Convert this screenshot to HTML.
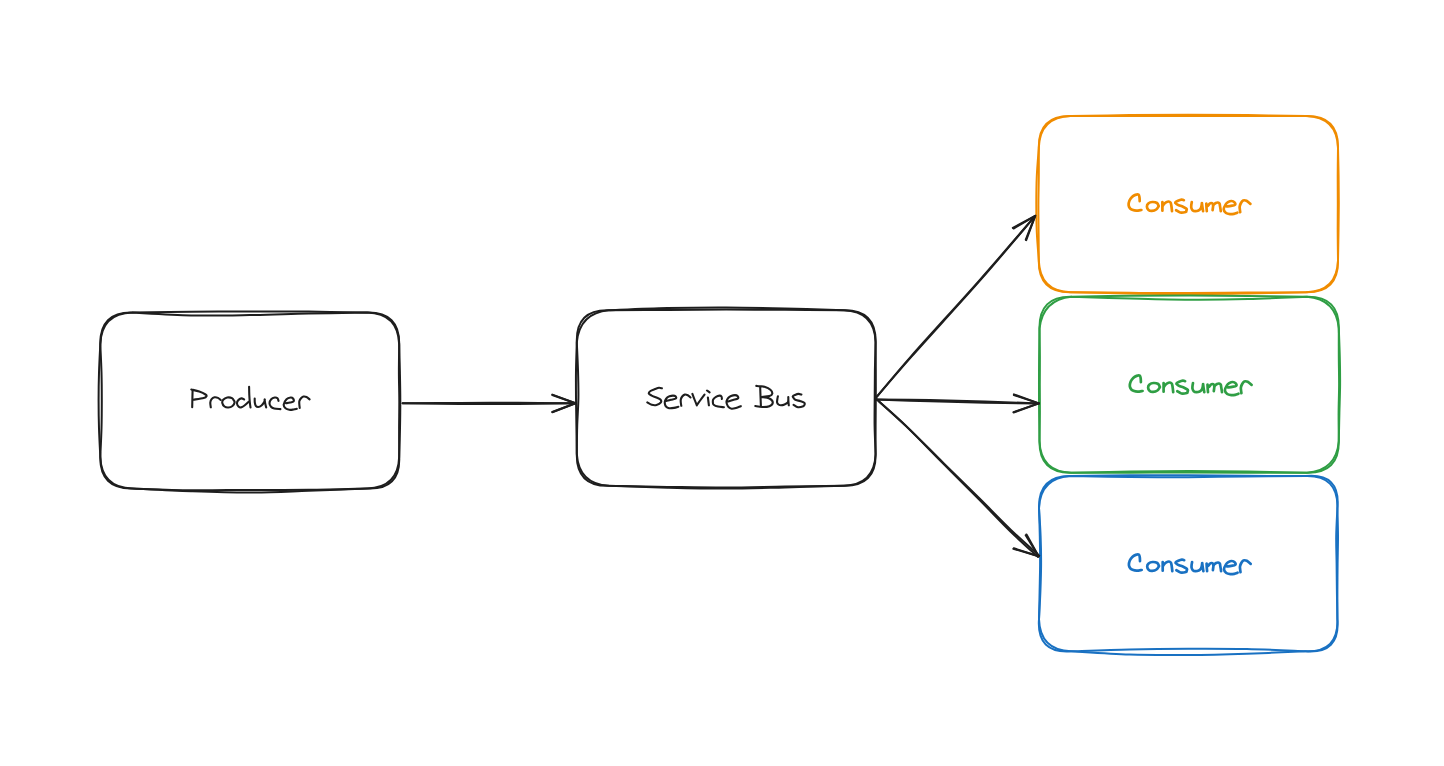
<!DOCTYPE html>
<html><head><meta charset="utf-8"><style>
html,body{margin:0;padding:0;background:#fff;}
body{width:1444px;height:766px;overflow:hidden;}
svg{display:block;}
</style></head><body>
<svg width="1444" height="766" viewBox="0 0 1444 766" stroke-linecap="round" stroke-linejoin="round">
<rect width="1444" height="766" fill="#ffffff"/>
<path d="M132.30 312.60 C142.09 312.47 171.45 312.00 191.03 311.80 C210.60 311.60 230.18 311.43 249.75 311.40 C269.32 311.37 288.90 311.40 308.48 311.60 C328.05 311.80 357.41 312.43 367.20 312.60 Q399.90 311.90 399.20 344.60 C399.32 349.26 399.72 363.25 399.90 372.58 C400.08 381.90 400.28 391.23 400.30 400.55 C400.32 409.88 400.18 419.20 400.00 428.53 C399.82 437.85 399.33 451.84 399.20 456.50 Q400.80 490.10 367.20 488.50 C357.41 488.72 328.05 489.57 308.48 489.80 C288.90 490.03 269.32 489.82 249.75 489.90 C230.18 489.98 210.60 490.53 191.03 490.30 C171.45 490.07 142.09 488.80 132.30 488.50 Q99.60 489.20 100.30 456.50 C100.08 451.84 99.28 437.85 99.00 428.52 C98.72 419.20 98.60 409.88 98.60 400.55 C98.60 391.23 98.72 381.90 99.00 372.57 C99.28 363.25 100.08 349.26 100.30 344.60 Q99.60 311.90 132.30 312.60" stroke="#1e1e1e" stroke-width="2.0" fill="none"/>
<path d="M132.30 312.60 C142.09 313.07 171.45 314.98 191.03 315.40 C210.60 315.82 230.18 315.40 249.75 315.10 C269.32 314.80 288.90 314.02 308.48 313.60 C328.05 313.18 357.41 312.77 367.20 312.60 Q398.30 313.50 399.20 344.60 C399.15 349.26 398.88 363.25 398.90 372.58 C398.92 381.90 399.27 391.23 399.30 400.55 C399.33 409.88 399.12 419.20 399.10 428.53 C399.08 437.85 399.18 451.84 399.20 456.50 Q398.30 487.60 367.20 488.50 C357.41 488.88 328.05 490.12 308.48 490.80 C288.90 491.48 269.32 492.52 249.75 492.60 C230.18 492.68 210.60 491.98 191.03 491.30 C171.45 490.62 142.09 488.97 132.30 488.50 Q101.20 487.60 100.30 456.50 C100.50 451.84 101.25 437.85 101.50 428.52 C101.75 419.20 101.80 409.88 101.80 400.55 C101.80 391.23 101.75 381.90 101.50 372.57 C101.25 363.25 100.50 349.26 100.30 344.60 Q101.20 313.50 132.30 312.60" stroke="#1e1e1e" stroke-width="2.0" fill="none"/>
<path d="M608.80 310.30 C618.58 309.93 647.93 308.57 667.50 308.10 C687.07 307.63 706.63 307.43 726.20 307.50 C745.77 307.57 765.33 308.03 784.90 308.50 C804.47 308.97 833.82 310.00 843.60 310.30 Q876.30 309.60 875.60 342.30 C875.63 346.95 875.77 360.88 875.80 370.18 C875.83 379.47 875.83 388.76 875.80 398.05 C875.77 407.34 875.63 416.63 875.60 425.93 C875.57 435.22 875.60 449.15 875.60 453.80 Q876.30 486.50 843.60 485.80 C833.82 486.07 804.47 486.93 784.90 487.40 C765.33 487.87 745.77 488.55 726.20 488.60 C706.63 488.65 687.07 488.17 667.50 487.70 C647.93 487.23 618.58 486.12 608.80 485.80 Q576.00 486.60 576.80 453.80 C576.73 449.15 576.53 435.22 576.40 425.93 C576.27 416.63 576.07 407.34 576.00 398.05 C575.93 388.76 575.87 379.47 576.00 370.18 C576.13 360.88 576.67 346.95 576.80 342.30 Q575.80 309.30 608.80 310.30" stroke="#1e1e1e" stroke-width="2.0" fill="none"/>
<path d="M608.80 310.30 C618.58 310.25 647.93 310.12 667.50 310.00 C687.07 309.88 706.63 309.63 726.20 309.60 C745.77 309.57 765.33 309.68 784.90 309.80 C804.47 309.92 833.82 310.22 843.60 310.30 Q874.70 311.20 875.60 342.30 C875.48 346.95 875.05 360.88 874.90 370.18 C874.75 379.47 874.75 388.76 874.70 398.05 C874.65 407.34 874.45 416.63 874.60 425.93 C874.75 435.22 875.43 449.15 875.60 453.80 Q874.70 484.90 843.60 485.80 C833.82 485.93 804.47 486.30 784.90 486.60 C765.33 486.90 745.77 487.55 726.20 487.60 C706.63 487.65 687.07 487.20 667.50 486.90 C647.93 486.60 618.58 485.98 608.80 485.80 Q578.60 484.00 576.80 453.80 C576.87 449.15 576.93 435.22 577.20 425.93 C577.47 416.63 578.27 407.34 578.40 398.05 C578.53 388.76 578.27 379.47 578.00 370.18 C577.73 360.88 577.00 346.95 576.80 342.30 Q579.60 313.10 608.80 310.30" stroke="#1e1e1e" stroke-width="2.0" fill="none"/>
<path d="M1070.80 116.10 C1080.60 115.93 1110.00 115.32 1129.60 115.10 C1149.20 114.88 1168.80 114.80 1188.40 114.80 C1208.00 114.80 1227.60 114.88 1247.20 115.10 C1266.80 115.32 1296.20 115.93 1306.00 116.10 Q1338.70 115.40 1338.00 148.10 C1338.10 152.77 1338.47 166.78 1338.60 176.12 C1338.73 185.47 1338.82 194.81 1338.80 204.15 C1338.78 213.49 1338.63 222.83 1338.50 232.17 C1338.37 241.52 1338.08 255.53 1338.00 260.20 Q1338.70 292.90 1306.00 292.20 C1296.20 292.40 1266.80 293.08 1247.20 293.40 C1227.60 293.72 1208.00 294.08 1188.40 294.10 C1168.80 294.12 1149.20 293.82 1129.60 293.50 C1110.00 293.18 1080.60 292.42 1070.80 292.20 Q1038.10 292.90 1038.80 260.20 C1038.47 255.53 1037.22 241.52 1036.80 232.17 C1036.38 222.83 1036.30 213.49 1036.30 204.15 C1036.30 194.81 1036.38 185.47 1036.80 176.12 C1037.22 166.78 1038.47 152.77 1038.80 148.10 Q1038.10 115.40 1070.80 116.10" stroke="#f08c00" stroke-width="2.0" fill="none"/>
<path d="M1070.80 116.10 C1080.60 116.10 1110.00 116.12 1129.60 116.10 C1149.20 116.08 1168.80 116.00 1188.40 116.00 C1208.00 116.00 1227.60 116.08 1247.20 116.10 C1266.80 116.12 1296.20 116.10 1306.00 116.10 Q1337.10 117.00 1338.00 148.10 C1337.95 152.77 1337.73 166.78 1337.70 176.12 C1337.67 185.47 1337.80 194.81 1337.80 204.15 C1337.80 213.49 1337.67 222.83 1337.70 232.17 C1337.73 241.52 1337.95 255.53 1338.00 260.20 Q1337.10 291.30 1306.00 292.20 C1296.20 292.27 1266.80 292.45 1247.20 292.60 C1227.60 292.75 1208.00 293.07 1188.40 293.10 C1168.80 293.13 1149.20 292.95 1129.60 292.80 C1110.00 292.65 1080.60 292.30 1070.80 292.20 Q1039.70 291.30 1038.80 260.20 C1038.77 255.53 1038.67 241.52 1038.60 232.17 C1038.53 222.83 1038.37 213.49 1038.40 204.15 C1038.43 194.81 1038.73 185.47 1038.80 176.12 C1038.87 166.78 1038.80 152.77 1038.80 148.10 Q1039.70 117.00 1070.80 116.10" stroke="#f08c00" stroke-width="2.0" fill="none"/>
<path d="M1071.50 296.70 C1081.30 296.55 1110.72 295.98 1130.33 295.80 C1149.93 295.62 1169.54 295.58 1189.15 295.60 C1208.76 295.62 1228.37 295.72 1247.97 295.90 C1267.58 296.08 1297.00 296.57 1306.80 296.70 Q1339.50 296.00 1338.80 328.70 C1338.97 333.37 1339.58 347.37 1339.80 356.70 C1340.02 366.03 1340.17 375.37 1340.10 384.70 C1340.03 394.03 1339.62 403.37 1339.40 412.70 C1339.18 422.03 1338.90 436.03 1338.80 440.70 Q1339.50 473.40 1306.80 472.70 C1297.00 472.70 1267.58 472.73 1247.97 472.70 C1228.37 472.67 1208.76 472.50 1189.15 472.50 C1169.54 472.50 1149.93 472.67 1130.32 472.70 C1110.72 472.73 1081.30 472.70 1071.50 472.70 Q1038.80 473.40 1039.50 440.70 C1039.43 436.03 1039.18 422.03 1039.10 412.70 C1039.02 403.37 1039.00 394.03 1039.00 384.70 C1039.00 375.37 1039.02 366.03 1039.10 356.70 C1039.18 347.37 1039.43 333.37 1039.50 328.70 Q1038.80 296.00 1071.50 296.70" stroke="#2f9e44" stroke-width="2.0" fill="none"/>
<path d="M1071.50 296.70 C1081.30 297.00 1110.72 298.00 1130.33 298.50 C1149.93 299.00 1169.54 299.60 1189.15 299.70 C1208.76 299.80 1228.37 299.60 1247.97 299.10 C1267.58 298.60 1297.00 297.10 1306.80 296.70 Q1336.40 299.10 1338.80 328.70 C1338.80 333.37 1338.75 347.37 1338.80 356.70 C1338.85 366.03 1339.13 375.37 1339.10 384.70 C1339.07 394.03 1338.65 403.37 1338.60 412.70 C1338.55 422.03 1338.77 436.03 1338.80 440.70 Q1336.60 470.50 1306.80 472.70 C1297.00 472.50 1267.58 471.77 1247.97 471.50 C1228.37 471.23 1208.76 471.10 1189.15 471.10 C1169.54 471.10 1149.93 471.23 1130.32 471.50 C1110.72 471.77 1081.30 472.50 1071.50 472.70 Q1040.40 471.80 1039.50 440.70 C1039.57 436.03 1039.85 422.03 1039.90 412.70 C1039.95 403.37 1039.80 394.03 1039.80 384.70 C1039.80 375.37 1039.95 366.03 1039.90 356.70 C1039.85 347.37 1039.57 333.37 1039.50 328.70 Q1042.50 299.70 1071.50 296.70" stroke="#2f9e44" stroke-width="2.0" fill="none"/>
<path d="M1071.00 476.10 C1080.77 475.95 1110.07 475.33 1129.60 475.20 C1149.13 475.07 1168.67 475.20 1188.20 475.30 C1207.73 475.40 1227.27 475.67 1246.80 475.80 C1266.33 475.93 1295.63 476.05 1305.40 476.10 Q1340.90 472.60 1337.40 508.10 C1337.50 512.73 1337.97 526.63 1338.00 535.90 C1338.03 545.17 1337.70 554.43 1337.60 563.70 C1337.50 572.97 1337.43 582.23 1337.40 591.50 C1337.37 600.77 1337.40 614.67 1337.40 619.30 Q1340.40 654.30 1305.40 651.30 C1295.63 650.92 1266.33 649.43 1246.80 649.00 C1227.27 648.57 1207.73 648.63 1188.20 648.70 C1168.67 648.77 1149.13 648.97 1129.60 649.40 C1110.07 649.83 1080.77 650.98 1071.00 651.30 Q1036.50 653.80 1039.00 619.30 C1039.10 614.67 1039.42 600.77 1039.60 591.50 C1039.78 582.23 1040.07 572.97 1040.10 563.70 C1040.13 554.43 1039.98 545.17 1039.80 535.90 C1039.62 526.63 1039.13 512.73 1039.00 508.10 Q1038.30 475.40 1071.00 476.10" stroke="#1971c2" stroke-width="2.0" fill="none"/>
<path d="M1071.00 476.10 C1080.77 476.27 1110.07 476.92 1129.60 477.10 C1149.13 477.28 1168.67 477.32 1188.20 477.20 C1207.73 477.08 1227.27 476.58 1246.80 476.40 C1266.33 476.22 1295.63 476.15 1305.40 476.10 Q1338.40 475.10 1337.40 508.10 C1337.20 512.73 1336.33 526.63 1336.20 535.90 C1336.07 545.17 1336.48 554.43 1336.60 563.70 C1336.72 572.97 1336.77 582.23 1336.90 591.50 C1337.03 600.77 1337.32 614.67 1337.40 619.30 Q1338.60 652.50 1305.40 651.30 C1295.63 651.70 1266.33 653.08 1246.80 653.70 C1227.27 654.32 1207.73 654.85 1188.20 655.00 C1168.67 655.15 1149.13 655.22 1129.60 654.60 C1110.07 653.98 1080.77 651.85 1071.00 651.30 Q1040.00 650.30 1039.00 619.30 C1039.23 614.67 1040.05 600.77 1040.40 591.50 C1040.75 582.23 1041.07 572.97 1041.10 563.70 C1041.13 554.43 1040.95 545.17 1040.60 535.90 C1040.25 526.63 1039.27 512.73 1039.00 508.10 Q1040.50 477.60 1071.00 476.10" stroke="#1971c2" stroke-width="2.0" fill="none"/>
<path d="M402.60 403.20 C412.17 403.34 440.77 403.93 460.00 404.05 C479.23 404.18 498.75 404.09 518.00 403.95 C537.25 403.81 565.92 403.32 575.50 403.20" stroke="#1e1e1e" stroke-width="2.0" fill="none" stroke-linecap="round"/>
<path d="M402.60 403.20 C412.17 403.16 440.77 403.01 460.00 402.95 C479.23 402.89 498.75 402.81 518.00 402.85 C537.25 402.89 565.92 403.14 575.50 403.20" stroke="#1e1e1e" stroke-width="2.0" fill="none" stroke-linecap="round"/>
<path d="M552.30 395.00 L575.50 403.20 L552.30 411.98" stroke="#1e1e1e" stroke-width="2.0" fill="none" stroke-linecap="round" stroke-linejoin="round"/>
<path d="M552.30 394.60 L575.50 403.20 L552.30 412.22" stroke="#1e1e1e" stroke-width="2.0" fill="none" stroke-linecap="round" stroke-linejoin="round"/>
<path d="M875.60 398.20 C881.65 391.20 894.47 375.86 911.93 356.20 C929.38 336.53 959.78 303.58 980.33 280.20 C1000.87 256.81 1026.05 226.62 1035.20 215.90" stroke="#1e1e1e" stroke-width="2.0" fill="none" stroke-linecap="round"/>
<path d="M875.60 398.20 C881.58 391.13 894.10 375.54 911.47 355.80 C928.85 336.07 959.25 303.12 979.87 279.80 C1000.50 256.49 1025.98 226.55 1035.20 215.90" stroke="#1e1e1e" stroke-width="2.0" fill="none" stroke-linecap="round"/>
<path d="M1013.58 228.53 L1035.20 215.90 L1025.77 239.70" stroke="#1e1e1e" stroke-width="2.0" fill="none" stroke-linecap="round" stroke-linejoin="round"/>
<path d="M1012.82 227.87 L1035.20 215.90 L1026.23 240.10" stroke="#1e1e1e" stroke-width="2.0" fill="none" stroke-linecap="round" stroke-linejoin="round"/>
<path d="M875.00 399.40 C884.16 399.72 911.65 400.75 929.99 401.30 C948.32 401.85 966.83 402.35 984.99 402.70 C1003.14 403.05 1029.91 403.28 1038.90 403.40" stroke="#1e1e1e" stroke-width="2.0" fill="none" stroke-linecap="round"/>
<path d="M875.00 399.40 C884.17 399.52 911.68 399.75 930.01 400.10 C948.35 400.45 966.87 400.95 985.01 401.50 C1003.16 402.05 1029.92 403.08 1038.90 403.40" stroke="#1e1e1e" stroke-width="2.0" fill="none" stroke-linecap="round"/>
<path d="M1013.89 395.05 L1038.90 403.40 L1013.61 412.09" stroke="#1e1e1e" stroke-width="2.0" fill="none" stroke-linecap="round" stroke-linejoin="round"/>
<path d="M1013.91 394.35 L1038.90 403.40 L1013.59 412.51" stroke="#1e1e1e" stroke-width="2.0" fill="none" stroke-linecap="round" stroke-linejoin="round"/>
<path d="M876.00 398.80 C880.95 403.31 894.43 415.00 905.72 425.89 C917.00 436.77 931.30 451.65 943.71 464.10 C956.11 476.55 969.06 489.39 980.14 500.57 C991.22 511.76 1000.56 521.82 1010.20 531.22 C1019.84 540.61 1033.34 552.66 1037.97 556.95" stroke="#1e1e1e" stroke-width="2.0" fill="none" stroke-linecap="round"/>
<path d="M876.00 398.80 C880.98 403.29 894.53 414.90 905.88 425.71 C917.23 436.53 931.60 451.35 944.09 463.70 C956.59 476.05 969.68 488.75 980.86 499.83 C992.05 510.91 1001.47 520.88 1011.20 530.18 C1020.93 539.49 1034.56 551.41 1039.23 555.65" stroke="#1e1e1e" stroke-width="2.0" fill="none" stroke-linecap="round"/>
<path d="M1025.68 535.33 L1038.60 556.30 L1013.85 548.24" stroke="#1e1e1e" stroke-width="2.0" fill="none" stroke-linecap="round" stroke-linejoin="round"/>
<path d="M1026.52 534.47 L1038.60 556.30 L1013.35 548.76" stroke="#1e1e1e" stroke-width="2.0" fill="none" stroke-linecap="round" stroke-linejoin="round"/>
<path d="M192.60 389.80 C192.57 391.17 192.47 395.08 192.40 398.00 C192.33 400.92 192.23 405.75 192.20 407.30 M191.30 389.50 C192.63 389.85 196.93 390.77 199.30 391.60 C201.67 392.43 204.30 393.73 205.50 394.50 C206.70 395.27 206.80 395.62 206.50 396.20 C206.20 396.78 205.87 397.42 203.70 398.00 C201.53 398.58 195.20 399.42 193.50 399.70 M210.80 407.30 C210.72 406.50 210.17 403.85 210.30 402.50 C210.43 401.15 210.90 400.07 211.60 399.20 C212.30 398.33 213.43 397.52 214.50 397.30 C215.57 397.08 216.98 397.47 218.00 397.90 C219.02 398.33 220.17 399.57 220.60 399.90 M234.50 401.50 C234.08 400.95 233.22 398.87 232.00 398.20 C230.78 397.53 228.67 397.23 227.20 397.50 C225.73 397.77 224.02 398.88 223.20 399.80 C222.38 400.72 222.08 401.88 222.30 403.00 C222.52 404.12 223.50 405.75 224.50 406.50 C225.50 407.25 226.97 407.58 228.30 407.50 C229.63 407.42 231.45 406.83 232.50 406.00 C233.55 405.17 234.43 403.50 234.60 402.50 C234.77 401.50 233.68 400.42 233.50 400.00 M244.10 399.50 C243.65 399.32 242.42 398.23 241.40 398.40 C240.38 398.57 238.73 399.65 238.00 400.50 C237.27 401.35 236.92 402.50 237.00 403.50 C237.08 404.50 237.83 405.85 238.50 406.50 C239.17 407.15 240.00 407.57 241.00 407.40 C242.00 407.23 243.17 406.48 244.50 405.50 C245.83 404.52 248.25 402.17 249.00 401.50 M249.10 386.70 C249.13 388.08 249.18 392.45 249.30 395.00 C249.42 397.55 249.60 399.93 249.80 402.00 C250.00 404.07 250.38 406.50 250.50 407.40 M254.70 398.50 C254.72 399.17 254.62 401.28 254.80 402.50 C254.98 403.72 255.23 405.05 255.80 405.80 C256.37 406.55 257.25 407.05 258.20 407.00 C259.15 406.95 260.50 406.33 261.50 405.50 C262.50 404.67 263.65 403.02 264.20 402.00 C264.75 400.98 264.70 399.83 264.80 399.40 M264.60 399.50 C264.70 400.17 264.93 402.18 265.20 403.50 C265.47 404.82 266.03 406.75 266.20 407.40 M278.50 400.80 C278.33 400.37 278.13 398.75 277.50 398.20 C276.87 397.65 275.75 397.33 274.70 397.50 C273.65 397.67 272.07 398.25 271.20 399.20 C270.33 400.15 269.53 401.93 269.50 403.20 C269.47 404.47 270.22 405.93 271.00 406.80 C271.78 407.67 272.63 408.02 274.20 408.40 C275.77 408.78 279.37 408.98 280.40 409.10 M286.00 403.20 C286.67 403.10 288.73 402.92 290.00 402.60 C291.27 402.28 293.10 401.98 293.60 401.30 C294.10 400.62 293.48 399.13 293.00 398.50 C292.52 397.87 291.78 397.38 290.70 397.50 C289.62 397.62 287.67 398.02 286.50 399.20 C285.33 400.38 283.87 403.08 283.70 404.60 C283.53 406.12 284.57 407.43 285.50 408.30 C286.43 409.17 287.97 409.60 289.30 409.80 C290.63 410.00 292.25 409.67 293.50 409.50 C294.75 409.33 296.25 408.92 296.80 408.80 M299.70 407.90 C299.63 407.25 299.35 405.15 299.30 404.00 C299.25 402.85 299.12 401.95 299.40 401.00 C299.68 400.05 300.33 399.03 301.00 398.30 C301.67 397.57 302.48 396.82 303.40 396.60 C304.32 396.38 305.47 396.53 306.50 397.00 C307.53 397.47 309.08 399.00 309.60 399.40" stroke="#1e1e1e" stroke-width="2.1" fill="none" stroke-linecap="round" stroke-linejoin="round"/>
<path d="M661.90 388.30 C661.42 388.22 660.15 387.67 659.00 387.80 C657.85 387.93 656.42 388.57 655.00 389.10 C653.58 389.63 651.53 390.25 650.50 391.00 C649.47 391.75 648.60 392.83 648.80 393.60 C649.00 394.37 650.42 394.95 651.70 395.60 C652.98 396.25 655.05 396.85 656.50 397.50 C657.95 398.15 659.67 398.68 660.40 399.50 C661.13 400.32 661.55 401.48 660.90 402.40 C660.25 403.32 658.03 404.60 656.50 405.00 C654.97 405.40 653.23 405.23 651.70 404.80 C650.17 404.37 648.03 402.80 647.30 402.40 M666.20 400.90 C667.00 400.72 669.38 400.20 671.00 399.80 C672.62 399.40 675.15 399.10 675.90 398.50 C676.65 397.90 675.98 396.68 675.50 396.20 C675.02 395.72 674.00 395.60 673.00 395.60 C672.00 395.60 670.47 395.88 669.50 396.20 C668.53 396.52 667.92 396.78 667.20 397.50 C666.48 398.22 665.60 399.53 665.20 400.50 C664.80 401.47 664.67 402.30 664.80 403.30 C664.93 404.30 665.28 405.68 666.00 406.50 C666.72 407.32 667.77 407.97 669.10 408.20 C670.43 408.43 672.45 408.15 674.00 407.90 C675.55 407.65 677.67 406.90 678.40 406.70 M681.30 405.80 C681.22 405.25 680.88 403.55 680.80 402.50 C680.72 401.45 680.57 400.50 680.80 399.50 C681.03 398.50 681.55 397.32 682.20 396.50 C682.85 395.68 683.77 394.80 684.70 394.60 C685.63 394.40 686.83 394.82 687.80 395.30 C688.77 395.78 690.05 397.13 690.50 397.50 M692.40 393.90 C692.78 394.92 693.97 398.10 694.70 400.00 C695.43 401.90 696.45 404.42 696.80 405.30 M696.80 405.30 C697.42 404.42 699.22 401.78 700.50 400.00 C701.78 398.22 703.83 395.50 704.50 394.60 M707.00 390.50 C707.43 390.82 709.17 392.08 709.60 392.40 M707.90 397.50 C707.98 398.17 708.23 400.20 708.40 401.50 C708.57 402.80 708.82 404.67 708.90 405.30 M721.90 399.00 C721.83 398.58 721.90 397.07 721.50 396.50 C721.10 395.93 720.42 395.55 719.50 395.60 C718.58 395.65 717.05 396.15 716.00 396.80 C714.95 397.45 713.72 398.55 713.20 399.50 C712.68 400.45 712.82 401.62 712.90 402.50 C712.98 403.38 712.85 404.12 713.70 404.80 C714.55 405.48 716.30 406.20 718.00 406.60 C719.70 407.00 722.92 407.10 723.90 407.20 M728.20 401.40 C729.00 401.17 731.38 400.48 733.00 400.00 C734.62 399.52 737.15 399.17 737.90 398.50 C738.65 397.83 737.98 396.57 737.50 396.00 C737.02 395.43 736.08 395.10 735.00 395.10 C733.92 395.10 732.13 395.52 731.00 396.00 C729.87 396.48 728.93 397.17 728.20 398.00 C727.47 398.83 726.83 400.03 726.60 401.00 C726.37 401.97 726.48 402.80 726.80 403.80 C727.12 404.80 727.70 406.18 728.50 407.00 C729.30 407.82 730.35 408.53 731.60 408.70 C732.85 408.87 734.47 408.42 736.00 408.00 C737.53 407.58 740.00 406.50 740.80 406.20 M756.30 385.90 C756.92 385.95 758.63 386.05 760.00 386.20 C761.37 386.35 762.77 386.20 764.50 386.80 C766.23 387.40 769.10 388.67 770.40 389.80 C771.70 390.93 772.47 392.55 772.30 393.60 C772.13 394.65 771.18 395.53 769.40 396.10 C767.62 396.67 762.90 396.85 761.60 397.00 M761.60 397.00 C762.90 397.25 767.53 397.60 769.40 398.50 C771.27 399.40 772.80 401.12 772.80 402.40 C772.80 403.68 771.18 405.43 769.40 406.20 C767.62 406.97 764.45 407.03 762.10 407.00 C759.75 406.97 756.43 406.17 755.30 406.00 M760.20 387.30 C760.25 388.75 760.38 392.92 760.50 396.00 C760.62 399.08 760.83 404.17 760.90 405.80 M777.90 396.30 C777.80 396.83 777.43 398.48 777.30 399.50 C777.17 400.52 776.90 401.57 777.10 402.40 C777.30 403.23 777.85 404.02 778.50 404.50 C779.15 404.98 780.00 405.30 781.00 405.30 C782.00 405.30 783.37 404.98 784.50 404.50 C785.63 404.02 787.17 403.23 787.80 402.40 C788.43 401.57 788.22 400.40 788.30 399.50 C788.38 398.60 788.30 397.42 788.30 397.00 M788.30 397.00 C788.32 397.67 788.32 399.62 788.40 401.00 C788.48 402.38 788.73 404.58 788.80 405.30 M801.40 394.60 C800.92 394.48 799.57 393.83 798.50 393.90 C797.43 393.97 795.97 394.57 795.00 395.00 C794.03 395.43 792.87 395.92 792.70 396.50 C792.53 397.08 793.45 397.92 794.00 398.50 C794.55 399.08 794.92 399.55 796.00 400.00 C797.08 400.45 799.12 400.73 800.50 401.20 C801.88 401.67 803.62 402.23 804.30 402.80 C804.98 403.37 804.77 404.03 804.60 404.60 C804.43 405.17 804.40 405.77 803.30 406.20 C802.20 406.63 799.62 407.43 798.00 407.20 C796.38 406.97 794.33 405.20 793.60 404.80" stroke="#1e1e1e" stroke-width="2.1" fill="none" stroke-linecap="round" stroke-linejoin="round"/>
<path d="M1139.70 201.10 C1139.67 200.50 1139.68 198.57 1139.50 197.50 C1139.32 196.43 1139.28 195.13 1138.60 194.70 C1137.92 194.27 1136.50 194.52 1135.40 194.90 C1134.30 195.28 1132.98 196.05 1132.00 197.00 C1131.02 197.95 1130.07 199.23 1129.50 200.60 C1128.93 201.97 1128.52 203.92 1128.60 205.20 C1128.68 206.48 1129.40 207.53 1130.00 208.30 C1130.60 209.07 1131.15 209.40 1132.20 209.80 C1133.25 210.20 1134.77 210.67 1136.30 210.70 C1137.83 210.73 1140.55 210.12 1141.40 210.00 M1158.70 206.10 C1158.42 205.58 1158.07 203.68 1157.00 203.00 C1155.93 202.32 1153.75 201.92 1152.30 202.00 C1150.85 202.08 1149.20 202.73 1148.30 203.50 C1147.40 204.27 1146.87 205.52 1146.90 206.60 C1146.93 207.68 1147.67 209.28 1148.50 210.00 C1149.33 210.72 1150.62 210.98 1151.90 210.90 C1153.18 210.82 1155.07 210.30 1156.20 209.50 C1157.33 208.70 1158.28 206.67 1158.70 206.10 M1162.40 202.00 C1162.40 202.75 1162.40 205.05 1162.40 206.50 C1162.40 207.95 1162.40 210.00 1162.40 210.70 M1162.60 206.00 C1162.80 205.72 1163.23 204.92 1163.80 204.30 C1164.37 203.68 1165.17 202.77 1166.00 202.30 C1166.83 201.83 1168.05 201.47 1168.80 201.50 C1169.55 201.53 1170.12 202.03 1170.50 202.50 C1170.88 202.97 1170.92 203.47 1171.10 204.30 C1171.28 205.13 1171.45 206.37 1171.60 207.50 C1171.75 208.63 1171.93 210.50 1172.00 211.10 M1183.90 200.20 C1183.52 200.12 1182.58 199.60 1181.60 199.70 C1180.62 199.80 1179.07 200.33 1178.00 200.80 C1176.93 201.27 1175.45 201.97 1175.20 202.50 C1174.95 203.03 1175.90 203.55 1176.50 204.00 C1177.10 204.45 1177.72 204.73 1178.80 205.20 C1179.88 205.67 1181.70 206.18 1183.00 206.80 C1184.30 207.42 1186.05 208.20 1186.60 208.90 C1187.15 209.60 1186.45 210.48 1186.30 211.00 C1186.15 211.52 1186.72 211.75 1185.70 212.00 C1184.68 212.25 1181.80 212.80 1180.20 212.50 C1178.60 212.20 1176.78 210.58 1176.10 210.20 M1191.80 202.00 C1191.72 202.50 1191.38 204.03 1191.30 205.00 C1191.22 205.97 1191.10 206.93 1191.30 207.80 C1191.50 208.67 1191.87 209.63 1192.50 210.20 C1193.13 210.77 1194.10 211.15 1195.10 211.20 C1196.10 211.25 1197.60 210.90 1198.50 210.50 C1199.40 210.10 1200.00 209.55 1200.50 208.80 C1201.00 208.05 1201.27 206.97 1201.50 206.00 C1201.73 205.03 1201.83 203.50 1201.90 203.00 M1201.90 203.00 C1201.98 203.67 1202.20 205.63 1202.40 207.00 C1202.60 208.37 1202.98 210.50 1203.10 211.20 M1206.30 203.50 C1206.33 204.17 1206.42 206.22 1206.50 207.50 C1206.58 208.78 1206.75 210.58 1206.80 211.20 M1206.60 206.50 C1206.87 206.32 1207.72 205.85 1208.20 205.40 C1208.68 204.95 1209.02 204.20 1209.50 203.80 C1209.98 203.40 1210.57 203.00 1211.10 203.00 C1211.63 203.00 1212.37 203.30 1212.70 203.80 C1213.03 204.30 1213.12 204.93 1213.10 206.00 C1213.08 207.07 1212.68 209.50 1212.60 210.20 M1213.10 206.00 C1213.25 205.73 1213.55 204.90 1214.00 204.40 C1214.45 203.90 1215.15 203.32 1215.80 203.00 C1216.45 202.68 1217.28 202.42 1217.90 202.50 C1218.52 202.58 1219.17 203.02 1219.50 203.50 C1219.83 203.98 1219.75 204.57 1219.90 205.40 C1220.05 206.23 1220.25 207.53 1220.40 208.50 C1220.55 209.47 1220.73 210.75 1220.80 211.20 M1226.70 206.40 C1227.42 206.30 1229.63 206.05 1231.00 205.80 C1232.37 205.55 1234.32 205.47 1234.90 204.90 C1235.48 204.33 1235.07 203.05 1234.50 202.40 C1233.93 201.75 1232.58 201.03 1231.50 201.00 C1230.42 200.97 1228.97 201.63 1228.00 202.20 C1227.03 202.77 1226.42 203.22 1225.70 204.40 C1224.98 205.58 1223.65 207.87 1223.70 209.30 C1223.75 210.73 1224.95 212.20 1226.00 213.00 C1227.05 213.80 1228.67 213.97 1230.00 214.10 C1231.33 214.23 1232.78 214.03 1234.00 213.80 C1235.22 213.57 1236.75 212.88 1237.30 212.70 M1240.20 212.20 C1240.13 211.67 1239.88 209.97 1239.80 209.00 C1239.72 208.03 1239.50 207.40 1239.70 206.40 C1239.90 205.40 1240.43 203.98 1241.00 203.00 C1241.57 202.02 1242.18 200.87 1243.10 200.50 C1244.02 200.13 1245.28 200.23 1246.50 200.80 C1247.72 201.37 1249.75 203.38 1250.40 203.90" stroke="#f08c00" stroke-width="2.7" fill="none" stroke-linecap="round" stroke-linejoin="round"/>
<path d="M1140.90 382.10 C1140.87 381.50 1140.88 379.57 1140.70 378.50 C1140.52 377.43 1140.48 376.13 1139.80 375.70 C1139.12 375.27 1137.70 375.52 1136.60 375.90 C1135.50 376.28 1134.18 377.05 1133.20 378.00 C1132.22 378.95 1131.27 380.23 1130.70 381.60 C1130.13 382.97 1129.72 384.92 1129.80 386.20 C1129.88 387.48 1130.60 388.53 1131.20 389.30 C1131.80 390.07 1132.35 390.40 1133.40 390.80 C1134.45 391.20 1135.97 391.67 1137.50 391.70 C1139.03 391.73 1141.75 391.12 1142.60 391.00 M1159.90 387.10 C1159.62 386.58 1159.27 384.68 1158.20 384.00 C1157.13 383.32 1154.95 382.92 1153.50 383.00 C1152.05 383.08 1150.40 383.73 1149.50 384.50 C1148.60 385.27 1148.07 386.52 1148.10 387.60 C1148.13 388.68 1148.87 390.28 1149.70 391.00 C1150.53 391.72 1151.82 391.98 1153.10 391.90 C1154.38 391.82 1156.27 391.30 1157.40 390.50 C1158.53 389.70 1159.48 387.67 1159.90 387.10 M1163.60 383.00 C1163.60 383.75 1163.60 386.05 1163.60 387.50 C1163.60 388.95 1163.60 391.00 1163.60 391.70 M1163.80 387.00 C1164.00 386.72 1164.43 385.92 1165.00 385.30 C1165.57 384.68 1166.37 383.77 1167.20 383.30 C1168.03 382.83 1169.25 382.47 1170.00 382.50 C1170.75 382.53 1171.32 383.03 1171.70 383.50 C1172.08 383.97 1172.12 384.47 1172.30 385.30 C1172.48 386.13 1172.65 387.37 1172.80 388.50 C1172.95 389.63 1173.13 391.50 1173.20 392.10 M1185.10 381.20 C1184.72 381.12 1183.78 380.60 1182.80 380.70 C1181.82 380.80 1180.27 381.33 1179.20 381.80 C1178.13 382.27 1176.65 382.97 1176.40 383.50 C1176.15 384.03 1177.10 384.55 1177.70 385.00 C1178.30 385.45 1178.92 385.73 1180.00 386.20 C1181.08 386.67 1182.90 387.18 1184.20 387.80 C1185.50 388.42 1187.25 389.20 1187.80 389.90 C1188.35 390.60 1187.65 391.48 1187.50 392.00 C1187.35 392.52 1187.92 392.75 1186.90 393.00 C1185.88 393.25 1183.00 393.80 1181.40 393.50 C1179.80 393.20 1177.98 391.58 1177.30 391.20 M1193.00 383.00 C1192.92 383.50 1192.58 385.03 1192.50 386.00 C1192.42 386.97 1192.30 387.93 1192.50 388.80 C1192.70 389.67 1193.07 390.63 1193.70 391.20 C1194.33 391.77 1195.30 392.15 1196.30 392.20 C1197.30 392.25 1198.80 391.90 1199.70 391.50 C1200.60 391.10 1201.20 390.55 1201.70 389.80 C1202.20 389.05 1202.47 387.97 1202.70 387.00 C1202.93 386.03 1203.03 384.50 1203.10 384.00 M1203.10 384.00 C1203.18 384.67 1203.40 386.63 1203.60 388.00 C1203.80 389.37 1204.18 391.50 1204.30 392.20 M1207.50 384.50 C1207.53 385.17 1207.62 387.22 1207.70 388.50 C1207.78 389.78 1207.95 391.58 1208.00 392.20 M1207.80 387.50 C1208.07 387.32 1208.92 386.85 1209.40 386.40 C1209.88 385.95 1210.22 385.20 1210.70 384.80 C1211.18 384.40 1211.77 384.00 1212.30 384.00 C1212.83 384.00 1213.57 384.30 1213.90 384.80 C1214.23 385.30 1214.32 385.93 1214.30 387.00 C1214.28 388.07 1213.88 390.50 1213.80 391.20 M1214.30 387.00 C1214.45 386.73 1214.75 385.90 1215.20 385.40 C1215.65 384.90 1216.35 384.32 1217.00 384.00 C1217.65 383.68 1218.48 383.42 1219.10 383.50 C1219.72 383.58 1220.37 384.02 1220.70 384.50 C1221.03 384.98 1220.95 385.57 1221.10 386.40 C1221.25 387.23 1221.45 388.53 1221.60 389.50 C1221.75 390.47 1221.93 391.75 1222.00 392.20 M1227.90 387.40 C1228.62 387.30 1230.83 387.05 1232.20 386.80 C1233.57 386.55 1235.52 386.47 1236.10 385.90 C1236.68 385.33 1236.27 384.05 1235.70 383.40 C1235.13 382.75 1233.78 382.03 1232.70 382.00 C1231.62 381.97 1230.17 382.63 1229.20 383.20 C1228.23 383.77 1227.62 384.22 1226.90 385.40 C1226.18 386.58 1224.85 388.87 1224.90 390.30 C1224.95 391.73 1226.15 393.20 1227.20 394.00 C1228.25 394.80 1229.87 394.97 1231.20 395.10 C1232.53 395.23 1233.98 395.03 1235.20 394.80 C1236.42 394.57 1237.95 393.88 1238.50 393.70 M1241.40 393.20 C1241.33 392.67 1241.08 390.97 1241.00 390.00 C1240.92 389.03 1240.70 388.40 1240.90 387.40 C1241.10 386.40 1241.63 384.98 1242.20 384.00 C1242.77 383.02 1243.38 381.87 1244.30 381.50 C1245.22 381.13 1246.48 381.23 1247.70 381.80 C1248.92 382.37 1250.95 384.38 1251.60 384.90" stroke="#2f9e44" stroke-width="2.7" fill="none" stroke-linecap="round" stroke-linejoin="round"/>
<path d="M1140.00 561.10 C1139.97 560.50 1139.98 558.57 1139.80 557.50 C1139.62 556.43 1139.58 555.13 1138.90 554.70 C1138.22 554.27 1136.80 554.52 1135.70 554.90 C1134.60 555.28 1133.28 556.05 1132.30 557.00 C1131.32 557.95 1130.37 559.23 1129.80 560.60 C1129.23 561.97 1128.82 563.92 1128.90 565.20 C1128.98 566.48 1129.70 567.53 1130.30 568.30 C1130.90 569.07 1131.45 569.40 1132.50 569.80 C1133.55 570.20 1135.07 570.67 1136.60 570.70 C1138.13 570.73 1140.85 570.12 1141.70 570.00 M1159.00 566.10 C1158.72 565.58 1158.37 563.68 1157.30 563.00 C1156.23 562.32 1154.05 561.92 1152.60 562.00 C1151.15 562.08 1149.50 562.73 1148.60 563.50 C1147.70 564.27 1147.17 565.52 1147.20 566.60 C1147.23 567.68 1147.97 569.28 1148.80 570.00 C1149.63 570.72 1150.92 570.98 1152.20 570.90 C1153.48 570.82 1155.37 570.30 1156.50 569.50 C1157.63 568.70 1158.58 566.67 1159.00 566.10 M1162.70 562.00 C1162.70 562.75 1162.70 565.05 1162.70 566.50 C1162.70 567.95 1162.70 570.00 1162.70 570.70 M1162.90 566.00 C1163.10 565.72 1163.53 564.92 1164.10 564.30 C1164.67 563.68 1165.47 562.77 1166.30 562.30 C1167.13 561.83 1168.35 561.47 1169.10 561.50 C1169.85 561.53 1170.42 562.03 1170.80 562.50 C1171.18 562.97 1171.22 563.47 1171.40 564.30 C1171.58 565.13 1171.75 566.37 1171.90 567.50 C1172.05 568.63 1172.23 570.50 1172.30 571.10 M1184.20 560.20 C1183.82 560.12 1182.88 559.60 1181.90 559.70 C1180.92 559.80 1179.37 560.33 1178.30 560.80 C1177.23 561.27 1175.75 561.97 1175.50 562.50 C1175.25 563.03 1176.20 563.55 1176.80 564.00 C1177.40 564.45 1178.02 564.73 1179.10 565.20 C1180.18 565.67 1182.00 566.18 1183.30 566.80 C1184.60 567.42 1186.35 568.20 1186.90 568.90 C1187.45 569.60 1186.75 570.48 1186.60 571.00 C1186.45 571.52 1187.02 571.75 1186.00 572.00 C1184.98 572.25 1182.10 572.80 1180.50 572.50 C1178.90 572.20 1177.08 570.58 1176.40 570.20 M1192.10 562.00 C1192.02 562.50 1191.68 564.03 1191.60 565.00 C1191.52 565.97 1191.40 566.93 1191.60 567.80 C1191.80 568.67 1192.17 569.63 1192.80 570.20 C1193.43 570.77 1194.40 571.15 1195.40 571.20 C1196.40 571.25 1197.90 570.90 1198.80 570.50 C1199.70 570.10 1200.30 569.55 1200.80 568.80 C1201.30 568.05 1201.57 566.97 1201.80 566.00 C1202.03 565.03 1202.13 563.50 1202.20 563.00 M1202.20 563.00 C1202.28 563.67 1202.50 565.63 1202.70 567.00 C1202.90 568.37 1203.28 570.50 1203.40 571.20 M1206.60 563.50 C1206.63 564.17 1206.72 566.22 1206.80 567.50 C1206.88 568.78 1207.05 570.58 1207.10 571.20 M1206.90 566.50 C1207.17 566.32 1208.02 565.85 1208.50 565.40 C1208.98 564.95 1209.32 564.20 1209.80 563.80 C1210.28 563.40 1210.87 563.00 1211.40 563.00 C1211.93 563.00 1212.67 563.30 1213.00 563.80 C1213.33 564.30 1213.42 564.93 1213.40 566.00 C1213.38 567.07 1212.98 569.50 1212.90 570.20 M1213.40 566.00 C1213.55 565.73 1213.85 564.90 1214.30 564.40 C1214.75 563.90 1215.45 563.32 1216.10 563.00 C1216.75 562.68 1217.58 562.42 1218.20 562.50 C1218.82 562.58 1219.47 563.02 1219.80 563.50 C1220.13 563.98 1220.05 564.57 1220.20 565.40 C1220.35 566.23 1220.55 567.53 1220.70 568.50 C1220.85 569.47 1221.03 570.75 1221.10 571.20 M1227.00 566.40 C1227.72 566.30 1229.93 566.05 1231.30 565.80 C1232.67 565.55 1234.62 565.47 1235.20 564.90 C1235.78 564.33 1235.37 563.05 1234.80 562.40 C1234.23 561.75 1232.88 561.03 1231.80 561.00 C1230.72 560.97 1229.27 561.63 1228.30 562.20 C1227.33 562.77 1226.72 563.22 1226.00 564.40 C1225.28 565.58 1223.95 567.87 1224.00 569.30 C1224.05 570.73 1225.25 572.20 1226.30 573.00 C1227.35 573.80 1228.97 573.97 1230.30 574.10 C1231.63 574.23 1233.08 574.03 1234.30 573.80 C1235.52 573.57 1237.05 572.88 1237.60 572.70 M1240.50 572.20 C1240.43 571.67 1240.18 569.97 1240.10 569.00 C1240.02 568.03 1239.80 567.40 1240.00 566.40 C1240.20 565.40 1240.73 563.98 1241.30 563.00 C1241.87 562.02 1242.48 560.87 1243.40 560.50 C1244.32 560.13 1245.58 560.23 1246.80 560.80 C1248.02 561.37 1250.05 563.38 1250.70 563.90" stroke="#1971c2" stroke-width="2.7" fill="none" stroke-linecap="round" stroke-linejoin="round"/>
</svg>
</body></html>
